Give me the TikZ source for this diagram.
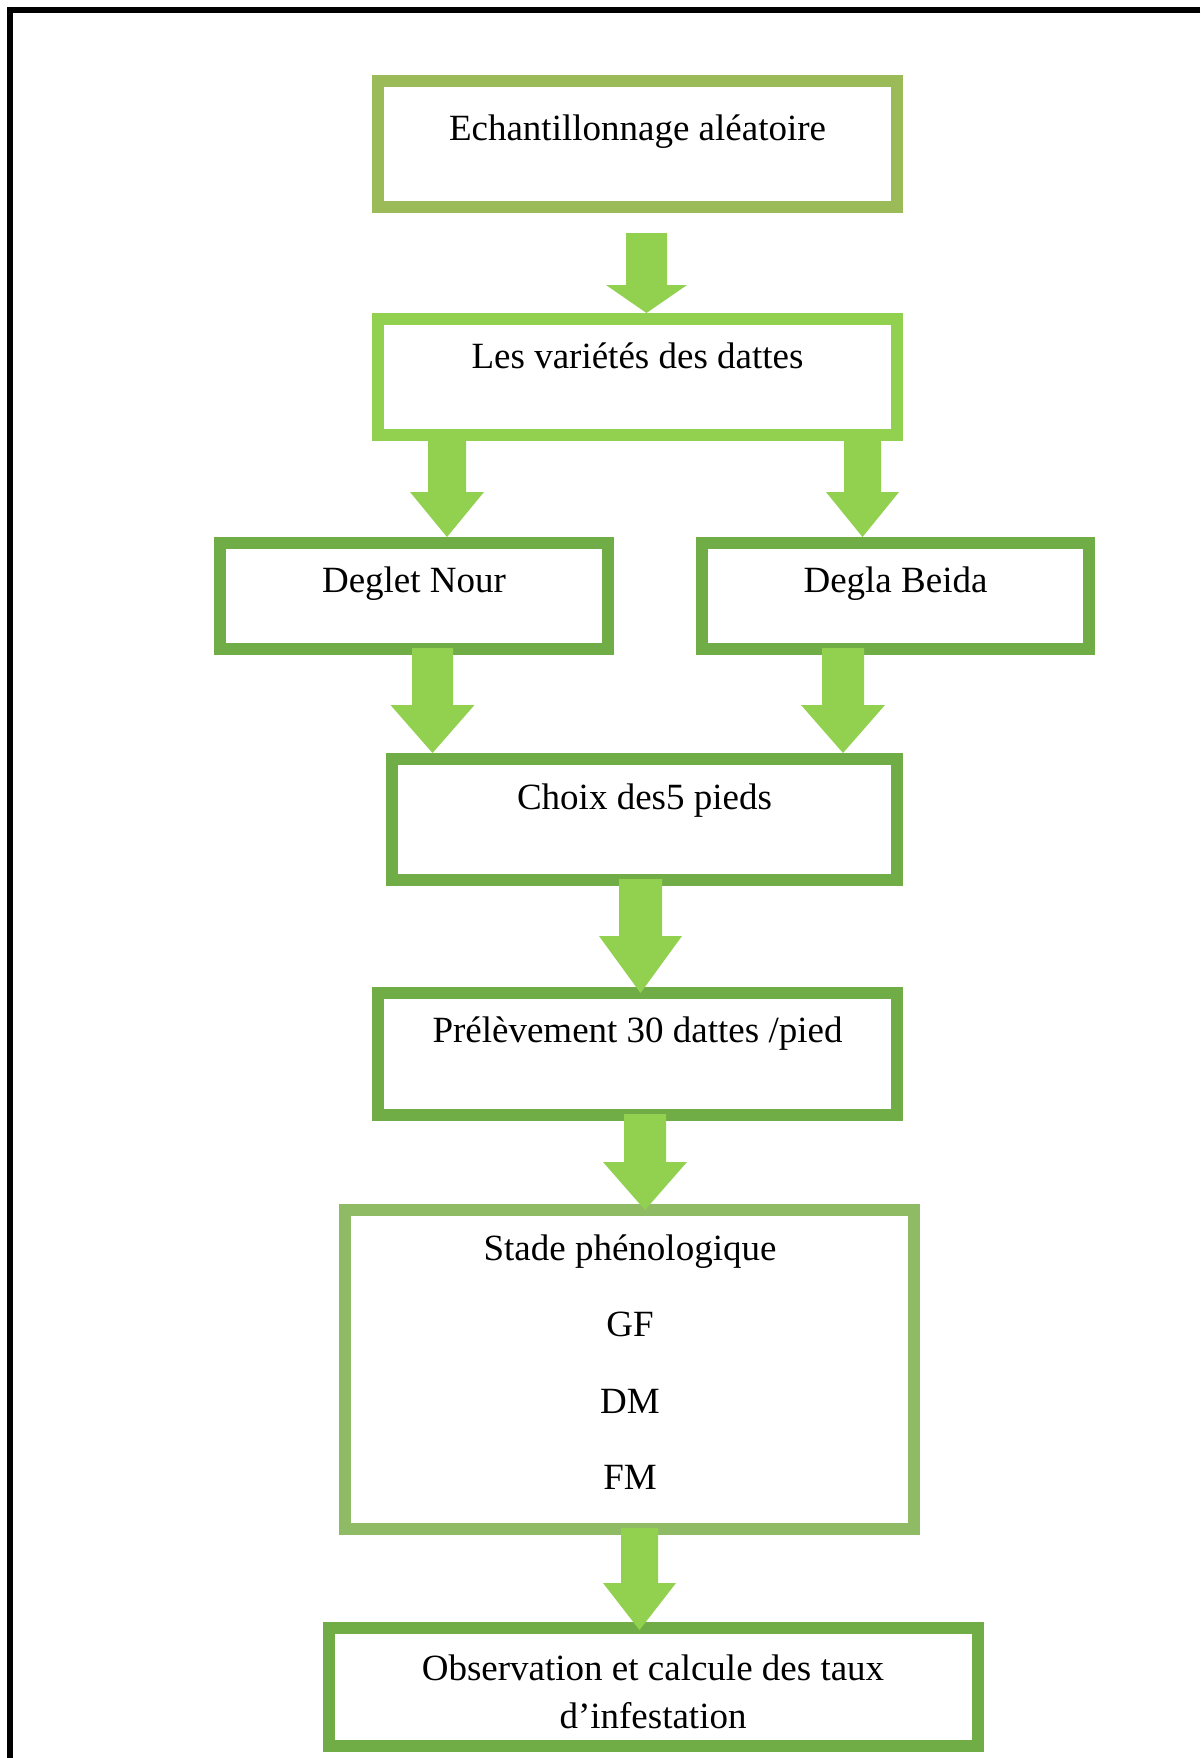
\documentclass[tikz,border=0pt]{standalone}
\usepackage{fontspec}
\setmainfont{Liberation Serif}
\usetikzlibrary{calc}
\definecolor{olivebox}{HTML}{9BBB59}
\definecolor{limebox}{HTML}{92D050}
\definecolor{greenbox}{HTML}{70AD47}
\definecolor{stadebox}{HTML}{8FBB64}
% #1 from node, #2 to node, #3 x centre, #4 shaft half width, #5 head half width,
% #6 head length, #7 shaft start inset into source, #8 tip inset into target
\newcommand\blockarrow[8]{%
  \fill[limebox] let \p1=(#1.south), \p2=(#2.north),
    \n1={\y1+(#7pt)}, \n2={\y2-(#8pt)}, \n3={\y2-(#8pt)+(#6pt)} in
    (#3-#4,\n1) -- (#3+#4,\n1) -- (#3+#4,\n3) -- (#3+#5,\n3) -- (#3,\n2)
    -- (#3-#5,\n3) -- (#3-#4,\n3) -- cycle;}
\begin{document}
\begin{tikzpicture}[x=1pt,y=-1pt,
  boxst/.style={draw, line width=12pt, fill=white, inner sep=0pt, rectangle},
  lbl/.style={anchor=base, inner sep=0pt, font=\fontsize{37}{48}\selectfont}]
\useasboundingbox (0,0) rectangle (1200,1758);
\fill[white] (0,0) rectangle (1200,1758);
\draw[line width=6.6pt] (1200,10) -- (10,10) -- (10,1758);

% boxes
\node[boxst, draw=olivebox, minimum width=519pt, minimum height=126pt] (b1) at (637.5,144) {};
\node[boxst, draw=limebox, minimum width=519pt, minimum height=116pt] (b2) at (637.5,377) {};
\node[boxst, draw=greenbox, minimum width=388pt, minimum height=106pt] (dn) at (414,596) {};
\node[boxst, draw=greenbox, minimum width=387pt, minimum height=106pt] (db) at (895.5,596) {};
\node[boxst, draw=greenbox, minimum width=505pt, minimum height=121pt] (ch) at (644.5,819.5) {};
\node[boxst, draw=greenbox, minimum width=519pt, minimum height=122pt] (pr) at (637.5,1054) {};
\node[boxst, draw=stadebox, minimum width=569pt, minimum height=319pt] (st) at (629.5,1369.5) {};
\node[boxst, draw=greenbox, minimum width=649pt, minimum height=118pt] (ob) at (653.5,1687) {};

% texts
\node[lbl] (t1) at (637.5,140) {Echantillonnage aléatoire};
\node[lbl] (t2) at (637.5,368) {Les variétés des dattes};
\node[lbl] (t3) at (414,592) {Deglet Nour};
\node[lbl] (t4) at (895.5,592) {Degla Beida};
\node[lbl] (t5) at (644.5,809) {Choix des5 pieds};
\node[lbl] (t6) at (637.5,1042) {Prélèvement 30 dattes /pied};
\node[lbl] (t7) at (630,1260) {Stade phénologique};
\node[lbl] (t8) at (630,1336) {GF};
\node[lbl] (t9) at (630,1413) {DM};
\node[lbl] (t10) at (630,1489) {FM};
\node[lbl] (t11) at (653,1680) {Observation et calcule des taux};
\node[lbl] (t12) at (653,1728) {d’infestation};

% block arrows
\blockarrow{b1}{b2}{646.5}{20.5}{40.5}{28}{-20}{0}
\blockarrow{b2}{dn}{447}{19}{37}{45}{0}{0}
\blockarrow{b2}{db}{862.5}{18.5}{36.5}{45}{0}{0}
\blockarrow{dn}{ch}{432.5}{20.5}{42}{48}{7}{0}
\blockarrow{db}{ch}{843}{21}{42}{48}{7}{0}
\blockarrow{ch}{pr}{640.5}{21.5}{41.5}{57}{7}{6}
\blockarrow{pr}{st}{645}{21}{42}{48}{7}{6}
\blockarrow{st}{ob}{639.5}{18.5}{36.5}{47}{7}{8}
\end{tikzpicture}
\end{document}
